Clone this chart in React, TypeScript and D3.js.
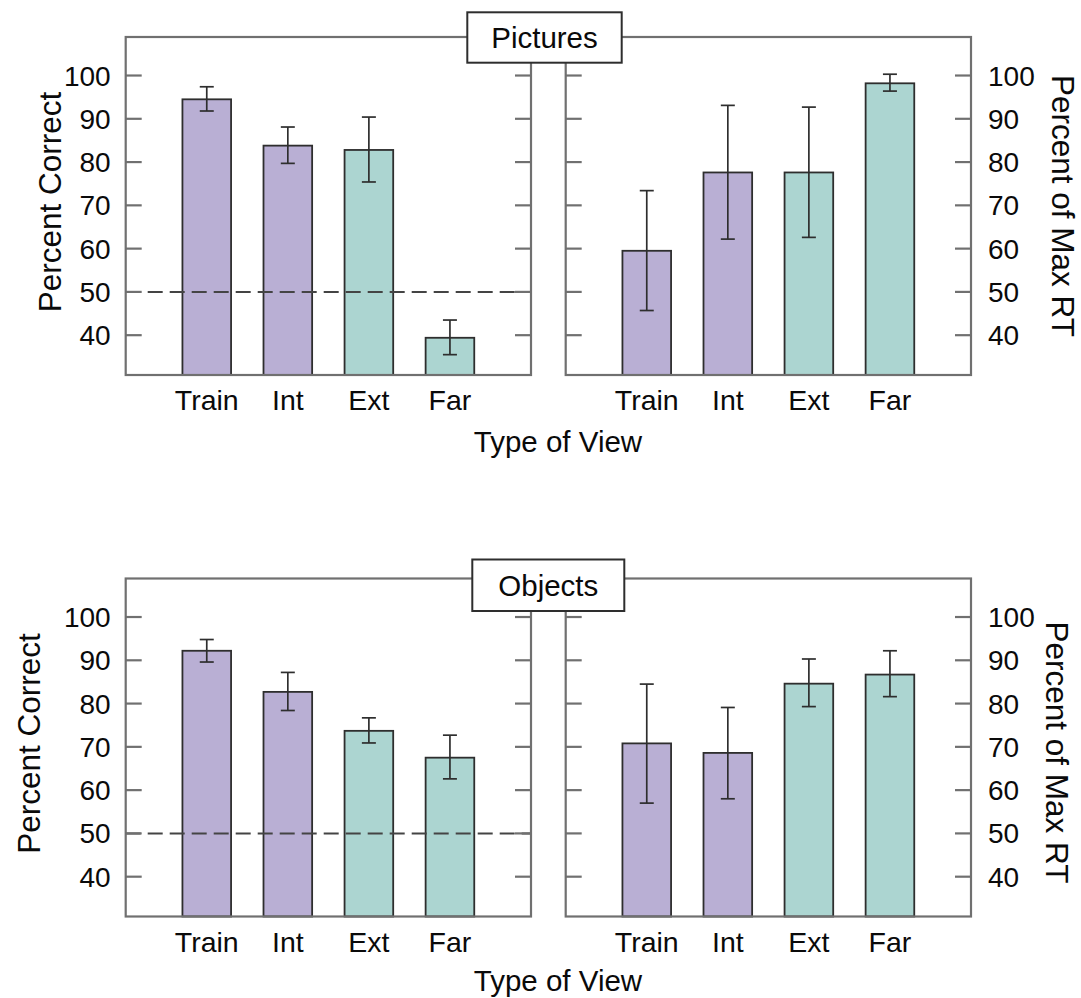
import React from "react";
import * as d3 from "d3";

const categories = ["Train", "Int", "Ext", "Far"];
const barColors = ["#b9afd4", "#b9afd4", "#acd5d1", "#acd5d1"];
const yTicks = [40, 50, 60, 70, 80, 90, 100];
const chanceLevel = 50;

const picturesAccuracy = [94.5, 83.8, 82.8, 39.4];
const picturesAccuracyHi = [97.4, 88.1, 90.4, 43.5];
const picturesAccuracyLo = [91.8, 79.7, 75.4, 35.5];

const picturesRT = [59.5, 77.6, 77.6, 98.2];
const picturesRTHi = [73.4, 93.1, 92.7, 100.3];
const picturesRTLo = [45.7, 62.2, 62.6, 96.4];

const objectsAccuracy = [92.2, 82.7, 73.7, 67.5];
const objectsAccuracyHi = [94.8, 87.2, 76.7, 72.7];
const objectsAccuracyLo = [89.6, 78.4, 70.9, 62.6];

const objectsRT = [70.8, 68.6, 84.6, 86.7];
const objectsRTHi = [84.5, 79.1, 90.3, 92.2];
const objectsRTLo = [57.0, 58.0, 79.3, 81.6];

const FONT = "'Liberation Sans', Arial, Helvetica, sans-serif";
const FRAME = "#707070";
const DARK = "#2e2e2e";
const TEXT = "#0a0a0a";

type PanelProps = {
  x0: number;
  x1: number;
  yTop: number;
  yBottom: number;
  values: number[];
  hi: number[];
  lo: number[];
  side: "left" | "right";
  dashed: boolean;
};

function Panel({ x0, x1, yTop, yBottom, values, hi, lo, side, dashed }: PanelProps) {
  const x = d3.scaleLinear().domain([0, categories.length + 1]).range([x0, x1]);
  const y = d3.scaleLinear().domain([30.8, 108.9]).range([yBottom, yTop]);
  const step = x(1) - x(0);
  const bw = step * 0.6;
  const cap = 7;
  const tickLen = 16;
  return (
    <g>
      {categories.map((c, i) => (
        <rect
          key={c}
          x={x(i + 1) - bw / 2}
          y={y(values[i])}
          width={bw}
          height={yBottom - y(values[i])}
          fill={barColors[i]}
          stroke={DARK}
          strokeWidth={1.8}
        />
      ))}
      {categories.map((c, i) => (
        <g key={"e" + c} stroke={DARK} strokeWidth={1.7}>
          <line x1={x(i + 1)} x2={x(i + 1)} y1={y(hi[i])} y2={y(lo[i])} />
          <line x1={x(i + 1) - cap} x2={x(i + 1) + cap} y1={y(hi[i])} y2={y(hi[i])} />
          <line x1={x(i + 1) - cap} x2={x(i + 1) + cap} y1={y(lo[i])} y2={y(lo[i])} />
        </g>
      ))}
      {dashed && (
        <line
          x1={x0}
          x2={x1}
          y1={y(chanceLevel)}
          y2={y(chanceLevel)}
          stroke="#444"
          strokeWidth={2}
          strokeDasharray="15,7"
        />
      )}
      <rect x={x0} y={yTop} width={x1 - x0} height={yBottom - yTop} fill="none" stroke={FRAME} strokeWidth={2.2} />
      {yTicks.map((t) => (
        <g key={t} stroke={FRAME} strokeWidth={2.2}>
          <line x1={x0} x2={x0 + tickLen} y1={y(t)} y2={y(t)} />
          <line x1={x1 - tickLen} x2={x1} y1={y(t)} y2={y(t)} />
        </g>
      ))}
      {yTicks.map((t) => (
        <text
          key={"l" + t}
          x={side === "left" ? x0 - 15 : x1 + 17}
          y={y(t)}
          dy="0.36em"
          textAnchor={side === "left" ? "end" : "start"}
          fontSize={28}
          fontFamily={FONT}
          fill={TEXT}
        >
          {t}
        </text>
      ))}
      {categories.map((c, i) => (
        <text
          key={"c" + c}
          x={x(i + 1)}
          y={yBottom + 35}
          textAnchor="middle"
          fontSize={28.5}
          fontFamily={FONT}
          fill={TEXT}
        >
          {c}
        </text>
      ))}
    </g>
  );
}

type RowProps = {
  top: number;
  title: string;
  boxX: number;
  boxW: number;
  boxY: number;
  boxH: number;
  acc: number[];
  accHi: number[];
  accLo: number[];
  rt: number[];
  rtHi: number[];
  rtLo: number[];
  leftLabelX: number;
  rightLabelX: number;
  rightLabelDy: number;
  titleDy: number;
};

function Row(p: RowProps) {
  const yTop = p.top;
  const yBottom = p.top + 338;
  const mid = (yTop + yBottom) / 2;
  return (
    <g>
      <Panel x0={125.7} x1={531} yTop={yTop} yBottom={yBottom} values={p.acc} hi={p.accHi} lo={p.accLo} side="left" dashed />
      <Panel x0={565.7} x1={971} yTop={yTop} yBottom={yBottom} values={p.rt} hi={p.rtHi} lo={p.rtLo} side="right" dashed={false} />
      <rect x={p.boxX} y={p.boxY} width={p.boxW} height={p.boxH} fill="#fff" stroke={DARK} strokeWidth={2} />
      <text
        x={p.boxX + p.boxW / 2}
        y={p.boxY + p.boxH / 2}
        dy="0.36em"
        textAnchor="middle"
        fontSize={29.5}
        fontFamily={FONT}
        fill={TEXT}
      >
        {p.title}
      </text>
      <text
        transform={`translate(${p.leftLabelX},${mid - 4}) rotate(-90)`}
        textAnchor="middle"
        fontSize={31.5}
        fontFamily={FONT}
        fill={TEXT}
      >
        Percent Correct
      </text>
      <text
        transform={`translate(${p.rightLabelX},${mid + p.rightLabelDy}) rotate(90)`}
        textAnchor="middle"
        fontSize={31.5}
        fontFamily={FONT}
        fill={TEXT}
      >
        Percent of Max RT
      </text>
      <text x={558} y={yBottom + 77 + p.titleDy} textAnchor="middle" fontSize={29.5} fontFamily={FONT} fill={TEXT}>
        Type of View
      </text>
    </g>
  );
}

export default function App() {
  return (
    <svg
      width={1081}
      height={998}
      style={{ position: "absolute", left: 0, top: 0, background: "#fff" }}
    >
      <Row
        top={37}
        title="Pictures"
        boxX={467.3}
        boxW={154.4}
        boxY={12.3}
        boxH={50.4}
        acc={picturesAccuracy}
        accHi={picturesAccuracyHi}
        accLo={picturesAccuracyLo}
        rt={picturesRT}
        rtHi={picturesRTHi}
        rtLo={picturesRTLo}
        leftLabelX={61}
        rightLabelX={1052}
        rightLabelDy={0}
        titleDy={0}
      />
      <Row
        top={578.5}
        title="Objects"
        boxX={472.3}
        boxW={152}
        boxY={559.5}
        boxH={51.5}
        acc={objectsAccuracy}
        accHi={objectsAccuracyHi}
        accLo={objectsAccuracyLo}
        rt={objectsRT}
        rtHi={objectsRTHi}
        rtLo={objectsRTLo}
        leftLabelX={40}
        rightLabelX={1046}
        rightLabelDy={5}
        titleDy={-3}
      />
    </svg>
  );
}
